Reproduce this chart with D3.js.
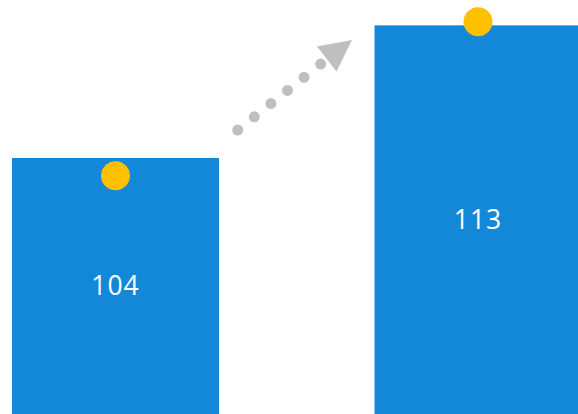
<!DOCTYPE html>
<html><head><meta charset="utf-8">
<script src="https://cdn.jsdelivr.net/npm/d3@7"></script>
<style>html,body{margin:0;padding:0;background:#fff;overflow:hidden}</style>
</head><body>
<script>
const categories = ["A", "B"];
const barValues = [104, 113];
const markerValues = [102.8, 113.25];
const barLabels = ["104", "113"];

const W = 578, H = 414;
const svg = d3.select("body").append("svg").attr("width", W).attr("height", H);

const x = d3.scaleBand().domain(categories).range([12, 581.5]).paddingInner(0.429).paddingOuter(0);
const y = d3.scaleLinear().domain([86.63, 114.72]).range([H, 0]);

svg.selectAll("rect.bar").data(barValues).join("rect")
  .attr("class", "bar")
  .attr("x", (d, i) => x(categories[i]))
  .attr("y", d => y(d))
  .attr("width", x.bandwidth())
  .attr("height", d => H - y(d))
  .attr("fill", "#1488D8");

svg.selectAll("text.lbl").data(barValues).join("text")
  .attr("class", "lbl")
  .attr("x", (d, i) => x(categories[i]) + x.bandwidth() / 2)
  .attr("y", d => (y(d) + H) / 2 + 9)
  .attr("text-anchor", "middle")
  .attr("fill", "#fff")
  .attr("font-family", "'Open Sans', sans-serif")
  .attr("font-size", 26.5)
  .attr("letter-spacing", 1)
  .text((d, i) => barLabels[i]);

svg.selectAll("circle.mk").data(markerValues).join("circle")
  .attr("class", "mk")
  .attr("cx", (d, i) => x(categories[i]) + x.bandwidth() / 2)
  .attr("cy", d => y(d))
  .attr("r", 14.5)
  .attr("fill", "#FFC000");

// dotted trend arrow between the bars
const g = svg.append("g");
g.append("line")
  .attr("x1", 237.7).attr("y1", 130)
  .attr("x2", 322).attr("y2", 63)
  .attr("stroke", "#BFBFBF")
  .attr("stroke-width", 11)
  .attr("stroke-linecap", "round")
  .attr("stroke-dasharray", "0 21.2");
g.append("path")
  .attr("d", "M317,46.5 L352,40 L336.5,71.5 Z")
  .attr("fill", "#BFBFBF");
</script>
</body></html>
